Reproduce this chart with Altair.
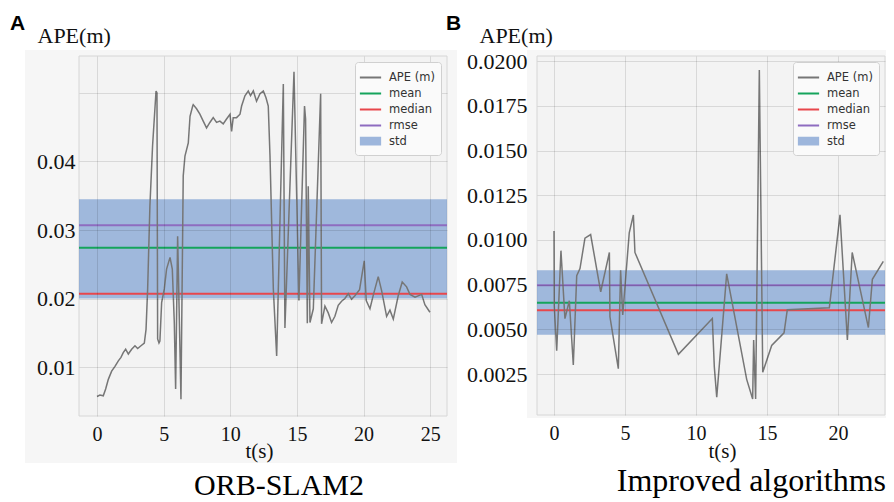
import altair as alt
import pandas as pd

# ---------------- data ----------------
# Panel A (ORB-SLAM2): (t [s], APE [m])
ape_a = [
    (0.00, 0.0057), (0.22, 0.0059), (0.47, 0.0058), (0.65, 0.0068), (0.85, 0.0082),
    (1.10, 0.0094), (1.35, 0.0101), (1.60, 0.0109), (1.80, 0.0114), (1.97, 0.0121),
    (2.15, 0.0126), (2.35, 0.0119), (2.60, 0.0126), (2.85, 0.0131), (3.05, 0.0127),
    (3.30, 0.0131), (3.55, 0.0135), (3.68, 0.0155), (3.80, 0.0214), (3.97, 0.0335),
    (4.17, 0.0423), (4.43, 0.0503), (4.50, 0.0500), (4.55, 0.0141), (4.65, 0.0135),
    (4.72, 0.0138), (4.85, 0.0194), (5.05, 0.0214), (5.22, 0.0243), (5.48, 0.0260),
    (5.65, 0.0243), (5.80, 0.0165), (5.90, 0.0068), (6.05, 0.0291), (6.30, 0.0053),
    (6.47, 0.0379), (6.60, 0.0408), (6.85, 0.0427), (6.98, 0.0466), (7.18, 0.0481),
    (7.22, 0.0483), (7.47, 0.0477), (7.72, 0.0469), (7.97, 0.0459), (8.22, 0.0449),
    (8.47, 0.0457), (8.72, 0.0464), (8.97, 0.0457), (9.22, 0.0459), (9.47, 0.0455),
    (9.72, 0.0462), (9.98, 0.0469), (10.10, 0.0444), (10.22, 0.0464), (10.47, 0.0464),
    (10.73, 0.0469), (10.85, 0.0481), (11.10, 0.0496), (11.35, 0.0503), (11.52, 0.0496),
    (11.73, 0.0503), (11.97, 0.0488), (12.23, 0.0499), (12.48, 0.0503), (12.68, 0.0493),
    (12.85, 0.0481), (12.98, 0.0408), (13.23, 0.0214), (13.48, 0.0116), (13.98, 0.0513),
    (14.10, 0.0157), (14.78, 0.0531), (15.15, 0.0197), (15.57, 0.0481), (15.65, 0.0462),
    (15.78, 0.0164), (15.85, 0.0364), (15.98, 0.0165), (16.23, 0.0185), (16.78, 0.0499),
    (16.85, 0.0163), (17.10, 0.0189), (17.35, 0.0179), (17.60, 0.0165), (17.85, 0.0174),
    (18.10, 0.0190), (18.35, 0.0196), (18.60, 0.0200), (18.85, 0.0207), (19.10, 0.0199),
    (19.35, 0.0204), (19.70, 0.0213), (20.05, 0.0255), (20.20, 0.0197), (20.48, 0.0185),
    (20.73, 0.0205), (21.10, 0.0232), (21.35, 0.0212), (21.73, 0.0174), (21.98, 0.0183),
    (22.23, 0.0170), (22.60, 0.0204), (22.90, 0.0224), (23.23, 0.0217), (23.48, 0.0206),
    (23.86, 0.0202), (24.36, 0.0206), (24.60, 0.0191), (24.98, 0.0180),
]
stats_a = [0.0274, 0.0207, 0.0307]          # mean, median, rmse
band_a = [0.0200, 0.0345]                   # mean +/- std

# Panel B (Improved algorithms)
ape_b = [
    (0.00, 0.0105), (0.02, 0.0063), (0.19, 0.0038), (0.49, 0.0094), (0.77, 0.0056),
    (1.08, 0.0066), (1.36, 0.0030), (1.60, 0.0080), (1.83, 0.0084), (2.18, 0.0101),
    (2.58, 0.0103), (3.29, 0.0071), (3.90, 0.0093), (3.94, 0.0057), (4.53, 0.0028),
    (4.69, 0.0083), (4.84, 0.0058), (5.30, 0.0104), (5.59, 0.0114), (5.70, 0.0093),
    (8.76, 0.0036), (11.15, 0.0056), (11.29, 0.0029), (11.46, 0.0012), (12.16, 0.0081),
    (13.57, 0.0022), (13.99, 0.0011), (14.06, 0.0044), (14.20, 0.0011), (14.46, 0.0195),
    (14.70, 0.0026), (15.33, 0.0041), (16.20, 0.0048), (16.43, 0.0061), (19.39, 0.0062),
    (20.14, 0.0114), (20.66, 0.0044), (21.00, 0.0093), (22.14, 0.0051), (22.42, 0.0078),
    (23.19, 0.0088),
]
stats_b = [0.00649, 0.00606, 0.00746]
band_b = [0.0047, 0.0083]

stat_names = ["mean", "median", "rmse"]
series = ["APE (m)", "mean", "median", "rmse", "std"]
x_ticks_a = [0, 5, 10, 15, 20, 25]
x_ticks_b = [0, 5, 10, 15, 20]
y_ticks_a = [0.01, 0.02, 0.03, 0.04, 0.05]
y_ticks_b = [0.0025, 0.005, 0.0075, 0.01, 0.0125, 0.015, 0.0175, 0.02]

# ---------------- styling ----------------
C_APE = "#767676"
C_MEAN = "#15a45c"
C_MED = "#e8474c"
C_RMSE = "#8e6cc0"
C_STD_LEG = "#9db6dc"
stat_colors = [C_MEAN, C_MED, C_RMSE]
legend_colors = [C_APE, C_MEAN, C_MED, C_RMSE, C_STD_LEG]
LINE = "M-1.25,0H1.25"
BLOCK = "M-1.25,-0.45H1.25M-1.25,-0.25H1.25M-1.25,-0.05H1.25M-1.25,0.15H1.25M-1.25,0.35H1.25"
legend_shapes = [LINE, LINE, LINE, LINE, BLOCK]
SERIF = "Liberation Serif"


def panel(ape, stats, band, xdom, ydom, w, h, xticks, yticks, ylabel_expr, ylab_pad,
          ytitle_x, xtitle_x, xtitle_y, letter, letter_x, caption, cap_x, cap_y,
          cap_size, cap_align, outer):
    xs = alt.Scale(domain=xdom, nice=False, zero=False)
    ys = alt.Scale(domain=ydom, nice=False, zero=False)
    xaxis = alt.Axis(values=xticks, grid=True, gridColor="#000000", gridOpacity=0.11,
                     domain=False, ticks=False, labelFont=SERIF, labelFontSize=20,
                     labelColor="#111111", labelPadding=8, labelFlush=False,
                     title="t(s)", titleFont=SERIF, titleFontSize=21, titleFontWeight="normal",
                     titleColor="#111111", titleX=xtitle_x, titleY=xtitle_y,
                     titleAlign="center", titleBaseline="alphabetic", zindex=1)
    yaxis = alt.Axis(values=yticks, grid=True, gridColor="#000000", gridOpacity=0.11,
                     domain=False, ticks=False, labelFont=SERIF, labelFontSize=22,
                     labelColor="#111111", labelPadding=ylab_pad, labelExpr=ylabel_expr,
                     labelOverlap=False,
                     title="APE(m)", titleFont=SERIF, titleFontSize=22, titleFontWeight="normal",
                     titleColor="#111111", titleAngle=0, titleX=ytitle_x, titleY=-14,
                     titleAlign="left", titleBaseline="alphabetic", zindex=1)

    one = pd.DataFrame({"k": [0]})
    outer_bg = alt.Chart(one).mark_rect(color="#f6f6f6").encode(
        x=alt.value(outer[0]), x2=alt.value(outer[1]),
        y=alt.value(outer[2]), y2=alt.value(outer[3]))
    plot_bg = alt.Chart(one).mark_rect(fill="#f3f3f3", stroke="#d6d6d6", strokeWidth=1).encode(
        x=alt.value(0), x2=alt.value(w), y=alt.value(0), y2=alt.value(h))

    band_df = pd.DataFrame({"lo": [band[0]], "hi": [band[1]]})
    band_l = alt.Chart(band_df).mark_rect(color="#5a86c8", opacity=0.55).encode(
        x=alt.value(0), x2=alt.value(w),
        y=alt.Y("lo:Q", scale=ys, axis=yaxis), y2="hi:Q")

    st_df = pd.DataFrame({"series": stat_names, "value": stats, "col": stat_colors})
    rules = alt.Chart(st_df).mark_rule(strokeWidth=2).encode(
        y=alt.Y("value:Q", scale=ys, axis=yaxis),
        color=alt.Color("col:N", scale=None))

    df = pd.DataFrame(ape, columns=["t", "ape"])
    line = alt.Chart(df).mark_line(color=C_APE, strokeWidth=1.5, clip=True).encode(
        x=alt.X("t:Q", scale=xs, axis=xaxis),
        y=alt.Y("ape:Q", scale=ys, axis=yaxis))

    leg = alt.Legend(title=None, orient="top-right", offset=6, padding=6, rowPadding=1,
                     labelFont="DejaVu Sans", labelFontSize=11.5, labelColor="#333333",
                     labelOffset=9, symbolSize=289, symbolStrokeWidth=2,
                     fillColor="#fafafa", strokeColor="#d0d0d0", cornerRadius=3, zindex=2)
    key_df = pd.DataFrame({"series": series, "t": [0.0] * 5, "ape": [ydom[0] - 1.0] * 5})
    keys = alt.Chart(key_df).mark_point(filled=False, opacity=1, strokeWidth=2, clip=True).encode(
        x=alt.X("t:Q", scale=xs, axis=xaxis),
        y=alt.Y("ape:Q", scale=ys, axis=yaxis),
        color=alt.Color("series:N", scale=alt.Scale(domain=series, range=legend_colors), legend=leg),
        shape=alt.Shape("series:N", scale=alt.Scale(domain=series, range=legend_shapes), legend=leg))

    letter_l = alt.Chart(pd.DataFrame({"s": [letter]})).mark_text(
        font="Liberation Sans", fontSize=21, fontWeight="bold", align="left",
        baseline="alphabetic", color="#000000").encode(
        x=alt.value(letter_x), y=alt.value(-26), text="s:N")
    cap_l = alt.Chart(pd.DataFrame({"s": [caption]})).mark_text(
        font=SERIF, fontSize=cap_size, align=cap_align, baseline="alphabetic",
        color="#000000").encode(x=alt.value(cap_x), y=alt.value(cap_y), text="s:N")

    return alt.layer(outer_bg, plot_bg, band_l, rules, line, keys, letter_l, cap_l).properties(
        width=w, height=h)


WA, HA = 368, 360
WB, HB = 348, 359

pa = panel(ape_a, stats_a, band_a, [-1.35, 26.26], [0.00285, 0.0554], WA, HA,
           x_ticks_a, y_ticks_a, "datum.value > 0.045 ? '' : format(datum.value, '.2f')", 4,
           -42, 180, 41, "A", -69, "ORB-SLAM2", 200, 439, 30, "center",
           [-54, 378, -6, 407])
pb = panel(ape_b, stats_b, band_b, [-1.197, 23.31], [0.000207, 0.02029], WB, HB,
           x_ticks_b, y_ticks_b, "format(datum.value, '.4f')", 10,
           -58, 185, 42, "B", -91, "Improved algorithms", 349, 435, 32, "right",
           [-10, WB + 1, -6, HB + 3])

chart = alt.hconcat(pa, pb, spacing=90, bounds="flush").resolve_scale(
    color="independent", shape="independent").properties(
    padding={"left": 2, "top": 5, "right": 0, "bottom": 0},
    background="#ffffff").configure_view(stroke=None)

chart.save("out.html", embed_options={"renderer": "svg", "actions": False})
